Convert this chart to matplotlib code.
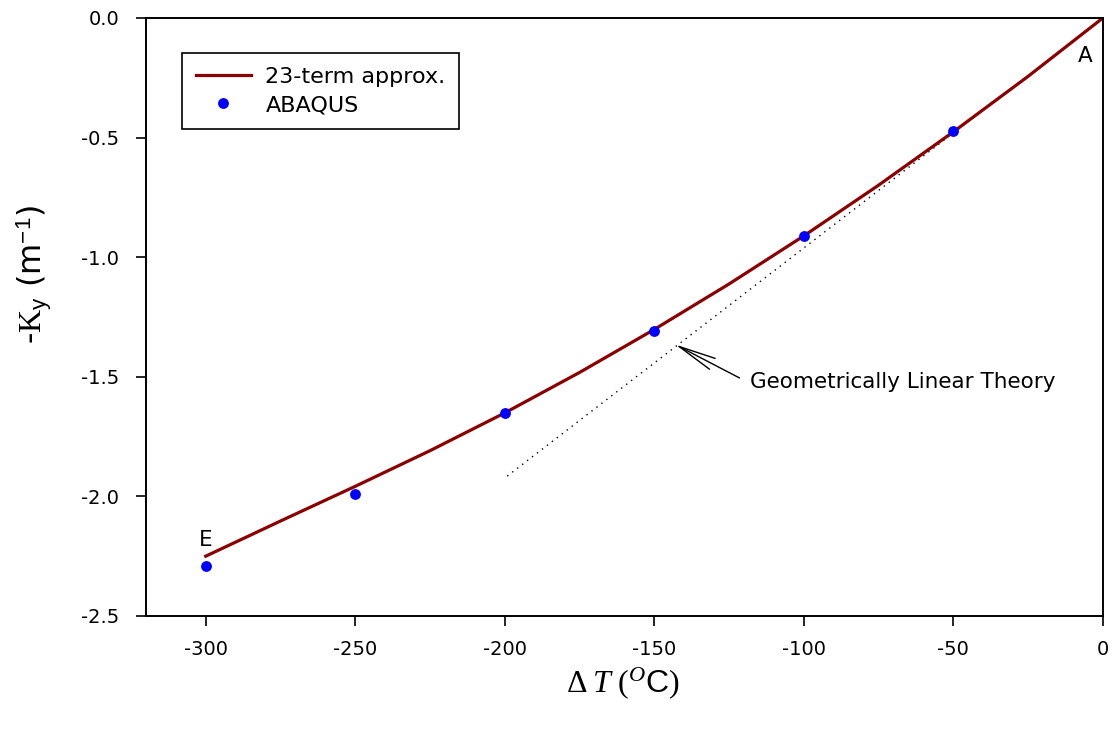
import numpy as np
import matplotlib
matplotlib.use('Agg')
import matplotlib.pyplot as plt

plt.rcParams['font.family'] = ['DejaVu Sans']
plt.rcParams['axes.unicode_minus'] = False
plt.rcParams['mathtext.fontset'] = 'custom'
plt.rcParams['mathtext.rm'] = 'Liberation Serif'
plt.rcParams['mathtext.it'] = 'Liberation Serif:italic'
plt.rcParams['mathtext.sf'] = 'Liberation Sans'

# 23-term approximation
dT_curve = [0, -25, -50, -75, -100, -125, -150, -175, -200, -225, -250, -275, -300]
ky_curve = [0.0, -0.244, -0.476, -0.699, -0.911, -1.112, -1.302, -1.482, -1.651,
            -1.809, -1.958, -2.103, -2.25]

# ABAQUS results
dT_abaqus = [-50, -100, -150, -200, -250, -300]
ky_abaqus = [-0.472, -0.911, -1.309, -1.651, -1.99, -2.291]

# geometrically linear theory
dT_lin = [0, -200]
ky_lin = [0.0, -1.923]

fig = plt.figure(figsize=(11.14, 7.34), dpi=100)
ax = fig.add_axes([0.131, 0.1608, 0.859, 0.8147])

ax.plot(dT_lin, ky_lin, color='black', linestyle=(0, (1, 3.5)), linewidth=1.0)
ax.plot(dT_curve, ky_curve, color='#8b0000', linewidth=2.3, label='23-term approx.')
ax.plot(dT_abaqus, ky_abaqus, 'o', color='#0000ff', markersize=7.8, markeredgewidth=0,
        label='ABAQUS')

# arrow + label for the linear theory line
ax.annotate('', xy=(-143, -1.365), xytext=(-121.5, -1.505),
            arrowprops=dict(arrowstyle='->, head_length=1.35, head_width=0.22',
                            color='black', lw=1.0, shrinkA=0, shrinkB=0,
                            mutation_scale=20))
ax.text(-118.1, -1.522, 'Geometrically Linear Theory', fontsize=15.5,
        ha='left', va='center')

ax.text(-6.0, -0.159, 'A', fontsize=15.5, ha='center', va='center')
ax.text(-300, -2.182, 'E', fontsize=15.5, ha='center', va='center')

ax.set_xlim(-320, 0)
ax.set_ylim(-2.5, 0)
ax.set_xticks([-300, -250, -200, -150, -100, -50, 0])
ax.set_xticklabels(['-300', '-250', '-200', '-150', '-100', '-50', '0'])
ax.set_yticks([0.0, -0.5, -1.0, -1.5, -2.0, -2.5])
ax.set_yticklabels(['0.0', '-0.5', '-1.0', '-1.5', '-2.0', '-2.5'])
ax.tick_params(direction='out', length=7.2, width=1.2, labelsize=14)
ax.tick_params(axis='x', pad=10)
ax.tick_params(axis='y', pad=12)
for s in ax.spines.values():
    s.set_linewidth(1.4)

fig.text(0.5592, 0.0695, r'$\Delta\;T\;(^{O}\mathsf{C})$', fontsize=23,
         ha='center', va='center')
fig.text(0.0305, 0.6253, r'-$\mathrm{K}_{\mathsf{y}}$ (m$^{\mathsf{-1}}$)', fontsize=23,
         rotation=90, ha='center', va='center')

leg = ax.legend(loc='upper left', bbox_to_anchor=(0.0376, 0.9415), borderaxespad=0,
                fontsize=16, frameon=True, fancybox=False, edgecolor='black',
                borderpad=0.62, handlelength=2.5, labelspacing=0.38,
                handletextpad=0.64, numpoints=1, framealpha=1)
leg.get_frame().set_linewidth(1.2)

fig.savefig('out.png', dpi=100)
